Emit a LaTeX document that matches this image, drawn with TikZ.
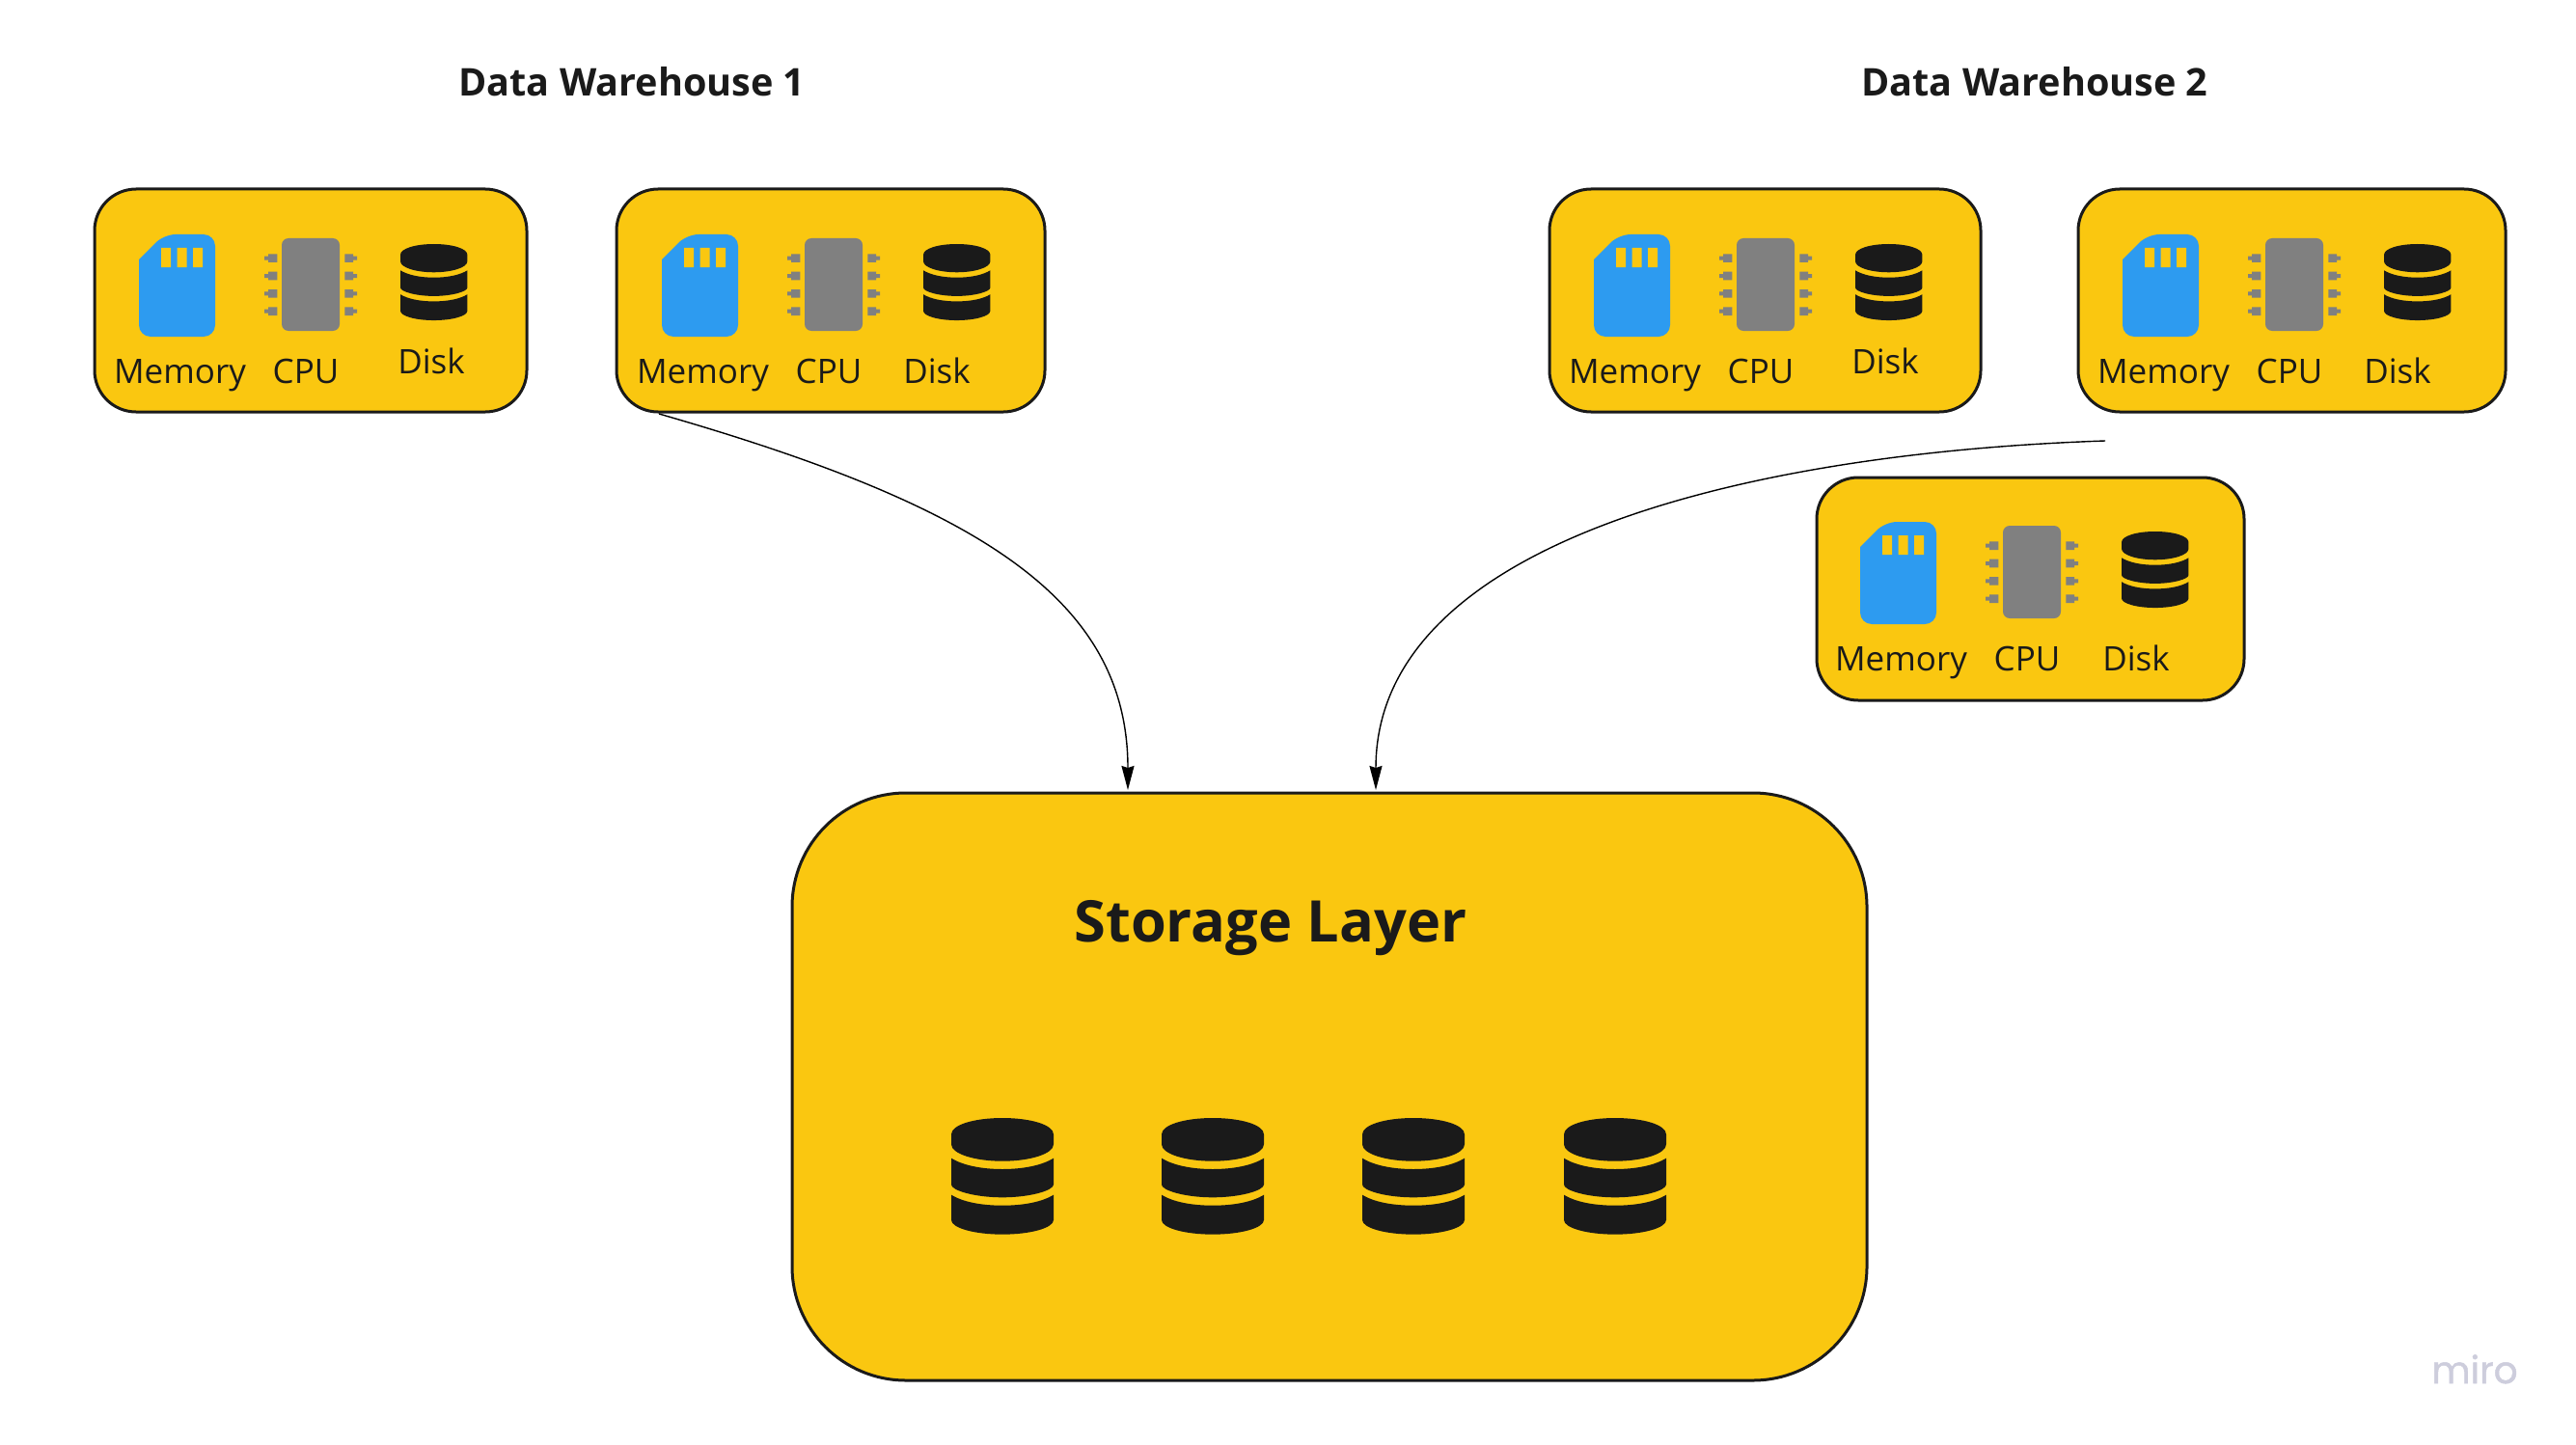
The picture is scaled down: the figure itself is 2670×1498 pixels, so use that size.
\documentclass[tikz,border=0pt]{standalone}
\usepackage{fontspec}
\setmainfont{Open Sans}
\newfontfamily\mirofont[RawFeature={embolden=1.2}]{Poppins}
\usetikzlibrary{arrows.meta}
\definecolor{miroyellow}{HTML}{FAC710}
\definecolor{miroblue}{HTML}{2D9BF0}
\definecolor{mirodark}{HTML}{1A1A1A}
\definecolor{mirogrey}{HTML}{808080}
\definecolor{miromark}{HTML}{CDCDDC}
\tikzset{
  hwbox/.style={draw=mirodark,fill=miroyellow,line width=1.5pt,rounded corners=21.5pt,inner sep=0pt,outer sep=0pt,minimum height=115.5pt},
  storebox/.style={draw=mirodark,fill=miroyellow,line width=1.5pt,rounded corners=59pt,inner sep=0pt,outer sep=0pt},
  hwlabel/.style={anchor=base,inner sep=0pt,outer sep=0pt,text=mirodark,font=\fontsize{17.5}{21}\selectfont},
  titlelabel/.style={anchor=base,inner sep=0pt,outer sep=0pt,text=mirodark,font=\fontsize{19.8}{24}\selectfont\bfseries},
  storelabel/.style={anchor=base,inner sep=0pt,outer sep=0pt,text=mirodark,font=\fontsize{29.75}{35}\selectfont\bfseries},
  marklabel/.style={anchor=base,inner sep=0pt,outer sep=0pt,text=miromark,font=\mirofont\fontsize{19.5}{24}\selectfont},
  link/.style={draw=black,line width=0.7pt,-{Stealth[length=12.5pt,width=6.5pt,inset=1pt]}}
}
% disk icon: origin at its top left corner, drawn 106 x 120.67 units
\newcommand{\diskicon}[3]{%
  \begin{scope}[shift={(#1,#2)},scale=#3]
    \fill[mirodark] (0,17) .. controls (0,7) and (24,0) .. (53,0) .. controls (82,0) and (106,7) .. (106,17)
      -- (106,27.3) .. controls (106,37) and (82,44.7) .. (53,44.7) .. controls (24,44.7) and (0,37) .. (0,27.3) -- cycle;
    \fill[mirodark] (0,41.7) .. controls (12,49) and (31,53) .. (53,53) .. controls (75,53) and (94,49) .. (106,41.7)
      -- (106,69) .. controls (106,75) and (82,82.3) .. (53,82.3) .. controls (24,82.3) and (0,75) .. (0,69) -- cycle;
    \fill[mirodark] (0,79.7) .. controls (12,87) and (31,90.7) .. (53,90.7) .. controls (75,90.7) and (94,87) .. (106,79.7)
      -- (106,105.7) .. controls (106,114) and (82,120.67) .. (53,120.67) .. controls (24,120.67) and (0,114) .. (0,105.7) -- cycle;
  \end{scope}}
% memory, cpu and disk icons with their labels; #2,#3 shift, #4 x of Disk label, #5 base of Disk label
\newcommand{\hwunit}[5]{%
  \begin{scope}[shift={(#2,#3)}]
    \fill[miroblue,rounded corners=6pt] (144,349) -- (223,349) -- (223,243) -- (170,243) [sharp corners] -- (144,269) [rounded corners=6pt] -- cycle;
    \fill[miroyellow] (167,257) rectangle (177,277) (183.5,257) rectangle (193.5,277) (200,257) rectangle (210,277);
    \fill[mirogrey,rounded corners=3.5pt] (292,247) rectangle (352,343);
    \foreach \py in {267.7,286,304.3,322.7}{
      \fill[mirogrey] (278,\py-4.3) rectangle (287.3,\py+4.3) (274,\py-2) rectangle (278.5,\py+2);
      \fill[mirogrey] (357.3,\py-4.3) rectangle (366,\py+4.3) (365.5,\py-2) rectangle (370,\py+2);
    }
  \end{scope}
  \diskicon{#2+415}{#3+253}{0.655}
  \node[hwlabel] (mem#1) at (#2+186.5,397+#3) {Memory};
  \node[hwlabel] (cpu#1) at (#2+317,397+#3) {CPU};
  \node[hwlabel] (dsk#1) at (#4,#5) {Disk};}
\begin{document}
\begin{tikzpicture}[x=0.5pt,y=-0.5pt]
\useasboundingbox (0,0) rectangle (2670,1498);
\node[titlelabel] (title1) at (655,100) {Data Warehouse 1};
\node[titlelabel] (title2) at (2109,100) {Data Warehouse 2};
\node[hwbox,minimum width=224pt] (box1) at (322,311.5) {};
\node[hwbox,minimum width=222pt] (box2) at (861,311.5) {};
\node[hwbox,minimum width=223.5pt] (box3) at (1829.5,311.5) {};
\node[hwbox,minimum width=221.5pt] (box4) at (2375.5,311.5) {};
\node[hwbox,minimum width=221.5pt] (box5) at (2104.5,610.5) {};
\node[storebox,minimum width=557pt,minimum height=304.5pt] (store) at (1378,1126.5) {};
\hwunit{1}{0}{0}{447}{387}
\hwunit{2}{542}{0}{971}{397}
\hwunit{3}{1508}{0}{1954}{387}
\hwunit{4}{2056}{0}{2485}{397}
\hwunit{5}{1784}{298}{2214}{695}
\node[storelabel] (storetitle) at (1317,976) {Storage Layer};
\diskicon{986}{1159}{1}
\diskicon{1204}{1159}{1}
\diskicon{1412}{1159}{1}
\diskicon{1621}{1159}{1}
\node[marklabel] (mark) at (2565,1434) {miro};
\coordinate (a1s) at (683,429);
\coordinate (a1e) at (1169,819);
\coordinate (a2s) at (2182,457);
\coordinate (a2e) at (1426,819);
\draw[link] (a1s) .. controls (1010,523) and (1169,619) .. (a1e);
\draw[link] (a2s) .. controls (1800,470) and (1426,565) .. (a2e);
\end{tikzpicture}
\end{document}
